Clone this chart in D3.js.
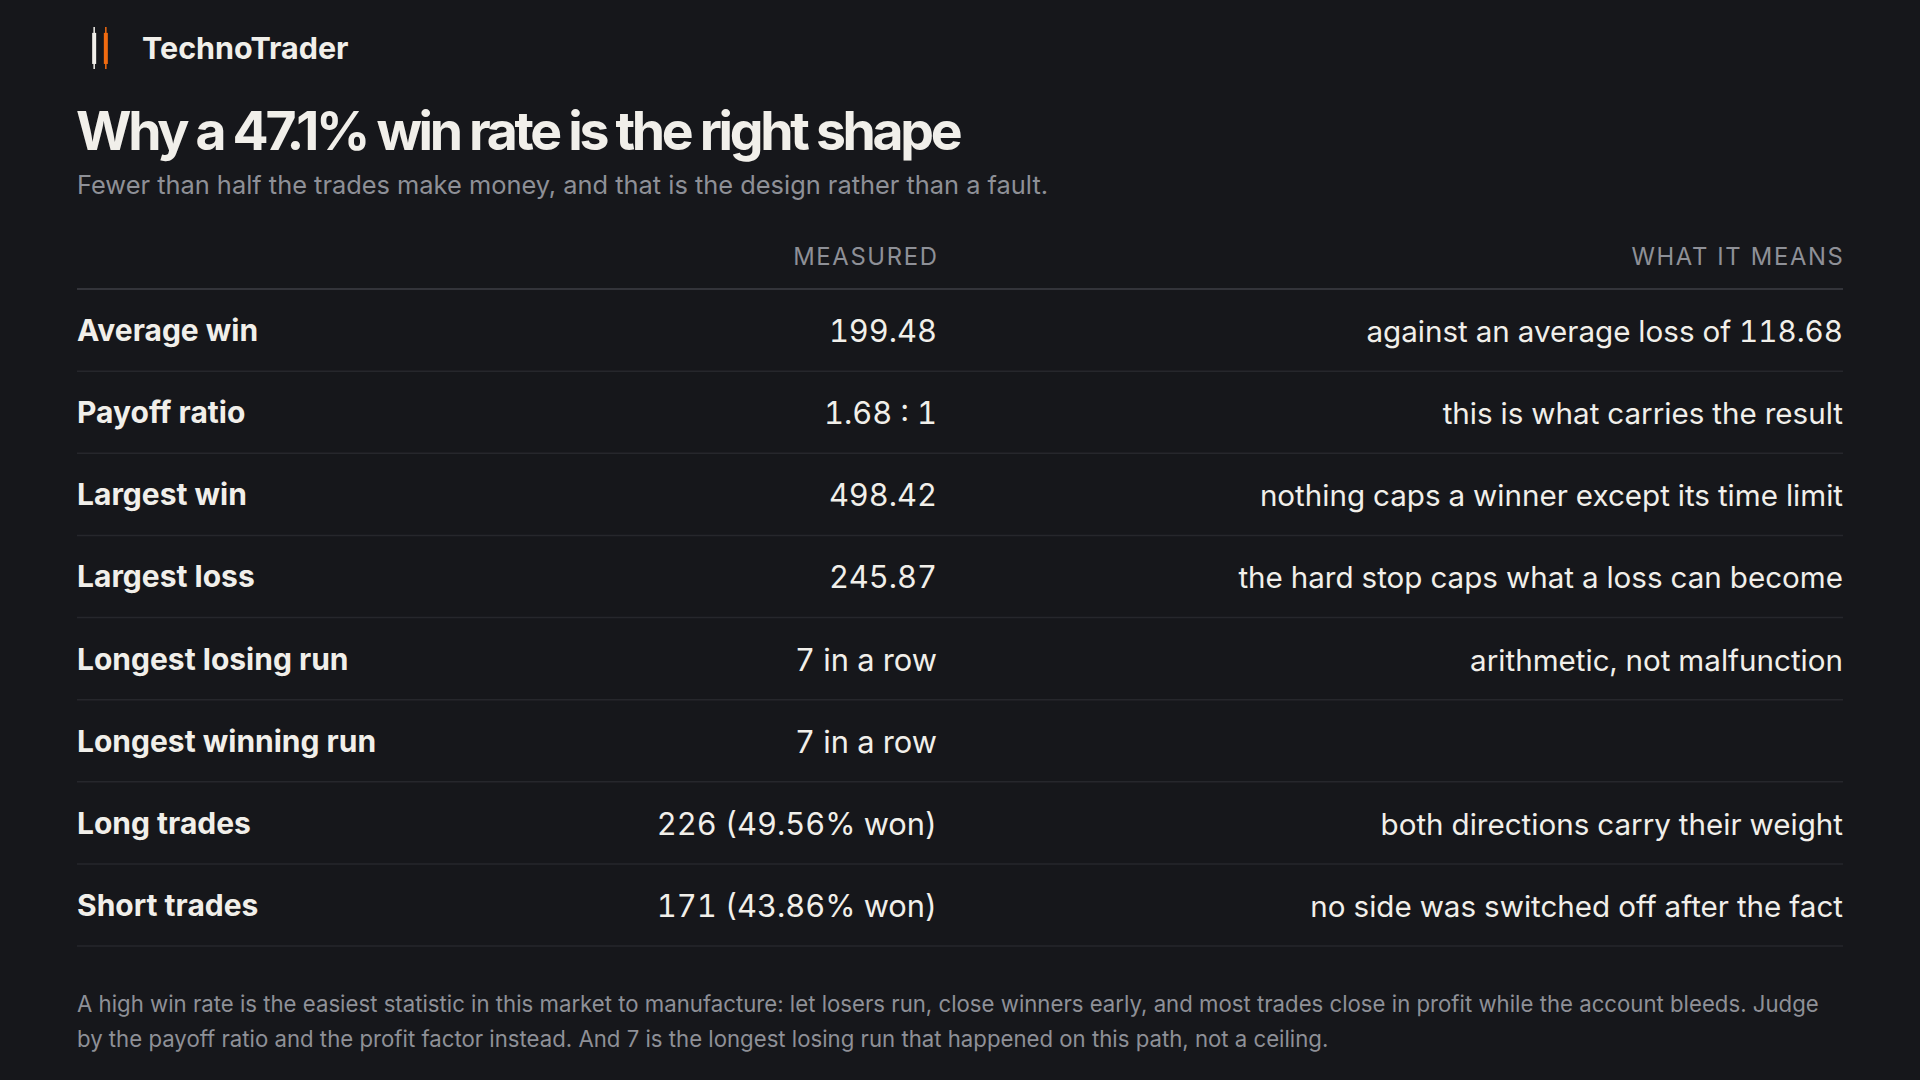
<!DOCTYPE html>
<html>
<head>
<meta charset="utf-8">
<script src="https://cdn.jsdelivr.net/npm/d3@7"></script>
<style>
  html, body { margin: 0; padding: 0; background: #16171b; }
  svg { display: block; font-family: Inter, "Noto Sans", sans-serif; }
  .num { font-variant-numeric: tabular-nums; }
</style>
</head>
<body>
<svg id="chart" width="1920" height="1080"></svg>
<script>

// table content
var brand = "TechnoTrader";
var title = "Why a 47.1% win rate is the right shape";
var subtitle = "Fewer than half the trades make money, and that is the design rather than a fault.";
var headers = ["", "MEASURED", "WHAT IT MEANS"];
var labels = ["Average win", "Payoff ratio", "Largest win", "Largest loss",
	"Longest losing run", "Longest winning run", "Long trades", "Short trades"];
var measured = ["199.48", "1.68 : 1", "498.42", "245.87",
	"7 in a row", "7 in a row", "226 (49.56% won)", "171 (43.86% won)"];
var meanings = ["against an average loss of 118.68", "this is what carries the result",
	"nothing caps a winner except its time limit", "the hard stop caps what a loss can become",
	"arithmetic, not malfunction", "", "both directions carry their weight",
	"no side was switched off after the fact"];
var footnote = [
	"A high win rate is the easiest statistic in this market to manufacture: let losers run, close winners early, and most trades close in profit while the account bleeds. Judge",
	"by the payoff ratio and the profit factor instead. And 7 is the longest losing run that happened on this path, not a ceiling."
];

// logo candles: [low, open, close, high] on a 0..1 scale
var candles = [[0, 0.12, 0.86, 1], [0, 0.12, 0.86, 1]];
var candleColors = ["#f1efea", "#f26b10"];

var W = 1920, H = 1080;
var left = 77, right = 1843, measuredRight = 937;
var textColor = "#f1efea", mutedColor = "#8e9097";

var svg = d3.select("#chart");

svg.append("rect").attr("width", W).attr("height", H).attr("fill", "#16171b");

// logo
var cx = d3.scaleBand().domain(d3.range(candles.length)).range([86, 114]).padding(0.4);
var cy = d3.scaleLinear().domain([0, 1]).range([69, 27]);
var logo = svg.append("g");
candles.forEach(function (c, i) {
	var mid = cx(i) + cx.bandwidth() / 2;
	logo.append("line")
		.attr("x1", mid).attr("x2", mid)
		.attr("y1", cy(c[0])).attr("y2", cy(c[3]))
		.attr("stroke", candleColors[i]).attr("stroke-width", 1.5);
	logo.append("rect")
		.attr("x", mid - 2).attr("width", 4)
		.attr("y", cy(c[2])).attr("height", cy(c[1]) - cy(c[2]))
		.attr("fill", candleColors[i]);
});
svg.append("text")
	.attr("x", 142).attr("y", 59)
	.attr("fill", textColor).attr("font-size", 30.5).attr("font-weight", 700)
	.text(brand);

// title block
svg.append("text")
	.attr("x", left - 1).attr("y", 150)
	.attr("fill", textColor).attr("font-size", 53.5).attr("font-weight", 700)
	.attr("letter-spacing", "-0.062em")
	.text(title);
svg.append("text")
	.attr("x", left).attr("y", 194)
	.attr("fill", mutedColor).attr("font-size", 25.4)
	.text(subtitle);

// column headers
[1, 2].forEach(function (k) {
	svg.append("text")
		.attr("x", k === 1 ? measuredRight + 1.5 : right + 1.5).attr("y", 265)
		.attr("text-anchor", "end")
		.attr("fill", mutedColor).attr("font-size", 23.8).attr("letter-spacing", "0.07em")
		.text(headers[k]);
});

// rows
var y = d3.scaleBand().domain(labels).range([289, 946]);

svg.append("line")
	.attr("x1", left).attr("x2", right)
	.attr("y1", y.range()[0]).attr("y2", y.range()[0])
	.attr("stroke", "#33343a").attr("stroke-width", 2);

var row = svg.selectAll("g.row")
	.data(labels)
	.enter().append("g")
	.attr("class", "row")
	.attr("transform", function (d) { return "translate(0," + y(d) + ")"; });

row.append("line")
	.attr("x1", left).attr("x2", right)
	.attr("y1", y.bandwidth()).attr("y2", y.bandwidth())
	.attr("stroke", "#26272c").attr("stroke-width", 1.5);

row.append("text")
	.attr("x", left).attr("y", y.bandwidth() / 2 + 11)
	.attr("fill", textColor).attr("font-size", 30).attr("font-weight", 700)
	.text(function (d) { return d; });

row.append("text")
	.attr("class", "num")
	.attr("x", measuredRight).attr("y", y.bandwidth() / 2 + 12)
	.attr("text-anchor", "end")
	.attr("fill", textColor).attr("font-size", 30.8)
	.text(function (d, i) { return measured[i]; });

row.append("text")
	.attr("class", "num")
	.attr("x", right).attr("y", y.bandwidth() / 2 + 12)
	.attr("text-anchor", "end")
	.attr("fill", textColor).attr("font-size", 29.6)
	.text(function (d, i) { return meanings[i]; });

// footnote
svg.selectAll("text.foot")
	.data(footnote)
	.enter().append("text")
	.attr("class", "foot")
	.attr("x", left).attr("y", function (d, i) { return 1012 + i * 35; })
	.attr("fill", mutedColor).attr("font-size", 22.2)
	.text(function (d) { return d; });

</script>
</body>
</html>
